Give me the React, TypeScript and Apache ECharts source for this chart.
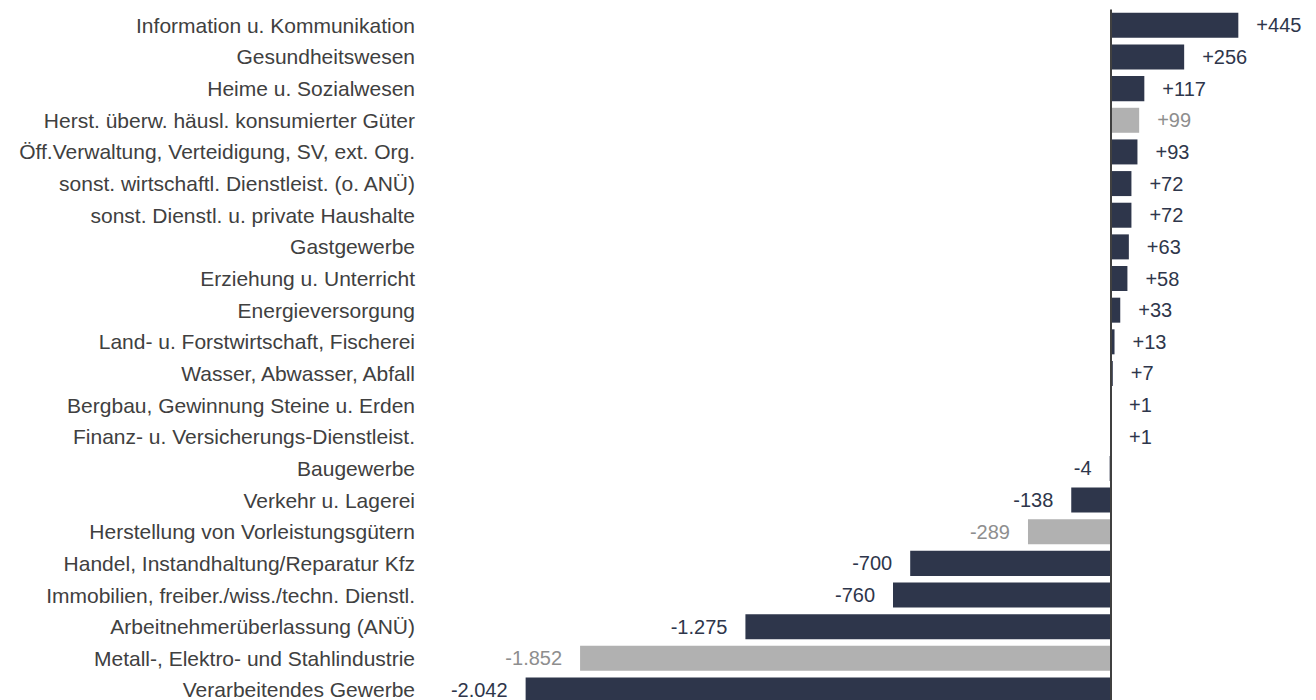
import React, { useEffect, useRef } from "react";
import * as echarts from "echarts";

const categories: string[] = [
  "Information u. Kommunikation",
  "Gesundheitswesen",
  "Heime u. Sozialwesen",
  "Herst. überw. häusl. konsumierter Güter",
  "Öff.Verwaltung, Verteidigung, SV, ext. Org.",
  "sonst. wirtschaftl. Dienstleist. (o. ANÜ)",
  "sonst. Dienstl. u. private Haushalte",
  "Gastgewerbe",
  "Erziehung u. Unterricht",
  "Energieversorgung",
  "Land- u. Forstwirtschaft, Fischerei",
  "Wasser, Abwasser, Abfall",
  "Bergbau, Gewinnung Steine u. Erden",
  "Finanz- u. Versicherungs-Dienstleist.",
  "Baugewerbe",
  "Verkehr u. Lagerei",
  "Herstellung von Vorleistungsgütern",
  "Handel, Instandhaltung/Reparatur Kfz",
  "Immobilien, freiber./wiss./techn. Dienstl.",
  "Arbeitnehmerüberlassung (ANÜ)",
  "Metall-, Elektro- und Stahlindustrie",
  "Verarbeitendes Gewerbe",
];

const values: number[] = [
  445, 256, 117, 99, 93, 72, 72, 63, 58, 33, 13, 7, 1, 1, -4, -138, -289, -700,
  -760, -1275, -1852, -2042,
];

const highlighted: string[] = [
  "Herst. überw. häusl. konsumierter Güter",
  "Herstellung von Vorleistungsgütern",
  "Metall-, Elektro- und Stahlindustrie",
];

const NAVY = "#2e364b";
const GREY = "#b1b1b1";
const GREY_TEXT = "#8e8e8e";
const FONT = "'Liberation Sans', Arial, sans-serif";

function fmt(v: number): string {
  const abs = Math.abs(v)
    .toString()
    .replace(/\B(?=(\d{3})+(?!\d))/g, ".");
  return (v > 0 ? "+" : v < 0 ? "-" : "") + abs;
}

export default function App() {
  const ref = useRef<HTMLDivElement>(null);

  useEffect(() => {
    if (!ref.current) return;
    const chart = echarts.init(ref.current, null, { renderer: "svg" });

    const data = values.map((v, i) => {
      const grey = highlighted.includes(categories[i]);
      return {
        value: v,
        itemStyle: { color: grey ? GREY : NAVY },
        label: {
          show: true,
          position: v >= 0 ? "right" : "left",
          distance: 18,
          color: grey ? GREY_TEXT : NAVY,
          fontSize: 20,
          fontFamily: FONT,
          formatter: () => fmt(v),
        },
      };
    });

    chart.setOption({
      animation: false,
      backgroundColor: "#ffffff",
      grid: {
        left: 509,
        right: 4.6,
        top: 9.5,
        bottom: 1.2,
        containLabel: false,
        outerBoundsMode: "none",
      },
      xAxis: {
        type: "value",
        min: -2100,
        max: 700,
        show: false,
        splitLine: { show: false },
      },
      yAxis: {
        type: "category",
        data: categories,
        inverse: true,
        axisLine: { show: false, onZero: false },
        axisTick: { show: false },
        axisLabel: {
          margin: 94,
          fontSize: 21,
          color: "#404040",
          fontFamily: FONT,
        },
      },
      series: [
        {
          type: "bar",
          data,
          barCategoryGap: "21%",
          markLine: {
            silent: true,
            symbol: "none",
            label: { show: false },
            lineStyle: { color: "#404040", width: 2, type: "solid" },
            data: [{ xAxis: 0 }],
            z: 10,
          },
        },
      ],
    });

    return () => chart.dispose();
  }, []);

  return (
    <div
      ref={ref}
      style={{
        position: "fixed",
        top: 0,
        left: 0,
        width: 1316,
        height: 707,
        background: "#fff",
      }}
    />
  );
}
